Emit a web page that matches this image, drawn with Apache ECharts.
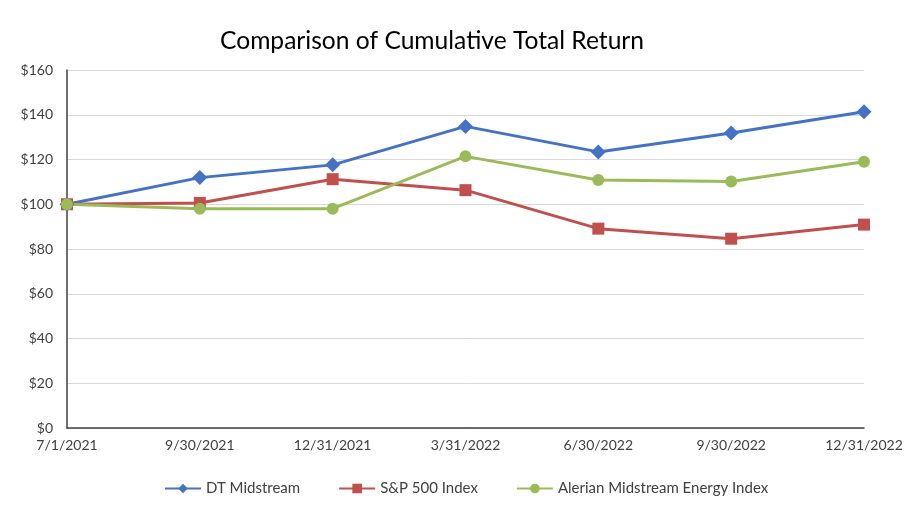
<!DOCTYPE html>
<html>
<head>
<meta charset="utf-8">
<script src="https://cdn.jsdelivr.net/npm/echarts@6/dist/echarts.min.js"></script>
<style>html,body{margin:0;padding:0;background:#fff}#c{width:921px;height:520px}</style>
</head>
<body>
<div id="c"></div>
<script>
const categories = ['7/1/2021','9/30/2021','12/31/2021','3/31/2022','6/30/2022','9/30/2022','12/31/2022'];
const dtMidstream = [100, 111.9, 117.6, 134.8, 123.4, 131.8, 141.3];
const sp500 = [100, 100.6, 111.2, 106.3, 89.1, 84.6, 90.9];
const alerian = [100, 98.0, 98.0, 121.4, 110.8, 110.2, 119.0];
const yTicks = [0, 20, 40, 60, 80, 100, 120, 140, 160];

const font = 'Lato, "Open Sans", sans-serif';
const chart = echarts.init(document.getElementById('c'));
function s(name, data, color, symbol, size) {
  return {
    name, type: 'line', data, symbol, symbolSize: size,
    lineStyle: { color, width: 3 },
    itemStyle: { color },
    animation: false
  };
}
chart.setOption({
  animation: false,
  title: {
    text: 'Comparison of Cumulative Total Return',
    left: 215, top: 24,
    textStyle: { fontFamily: font, fontSize: 24.6, fontWeight: 'normal', color: '#000' }
  },
  grid: { left: 67, right: 57, top: 70, bottom: 92 },
  xAxis: {
    type: 'category', data: categories, boundaryGap: false,
    axisLine: { lineStyle: { color: '#404040', width: 1.5 } },
    axisTick: { show: false },
    axisLabel: { color: '#404040', fontFamily: font, fontSize: 14, margin: 10 }
  },
  yAxis: {
    type: 'value', min: yTicks[0], max: yTicks[yTicks.length - 1], interval: 20,
    axisLine: { show: true, lineStyle: { color: '#404040', width: 1.5 } },
    axisTick: { show: false },
    splitLine: { lineStyle: { color: '#d9d9d9', width: 1 } },
    axisLabel: { color: '#404040', fontFamily: font, fontSize: 14, margin: 14, formatter: v => '$' + v }
  },
  legend: {
    left: 159, bottom: 19, itemGap: 38, itemWidth: 36, itemHeight: 12,
    textStyle: { fontFamily: font, fontSize: 15, color: '#404040' },
    data: ['DT Midstream', 'S&P 500 Index', 'Alerian Midstream Energy Index']
  },
  series: [
    s('DT Midstream', dtMidstream, '#4472C4', 'diamond', 15),
    s('S&P 500 Index', sp500, '#C0504D', 'rect', 12),
    s('Alerian Midstream Energy Index', alerian, '#9BBB59', 'circle', 12)
  ]
});
</script>
</body>
</html>
